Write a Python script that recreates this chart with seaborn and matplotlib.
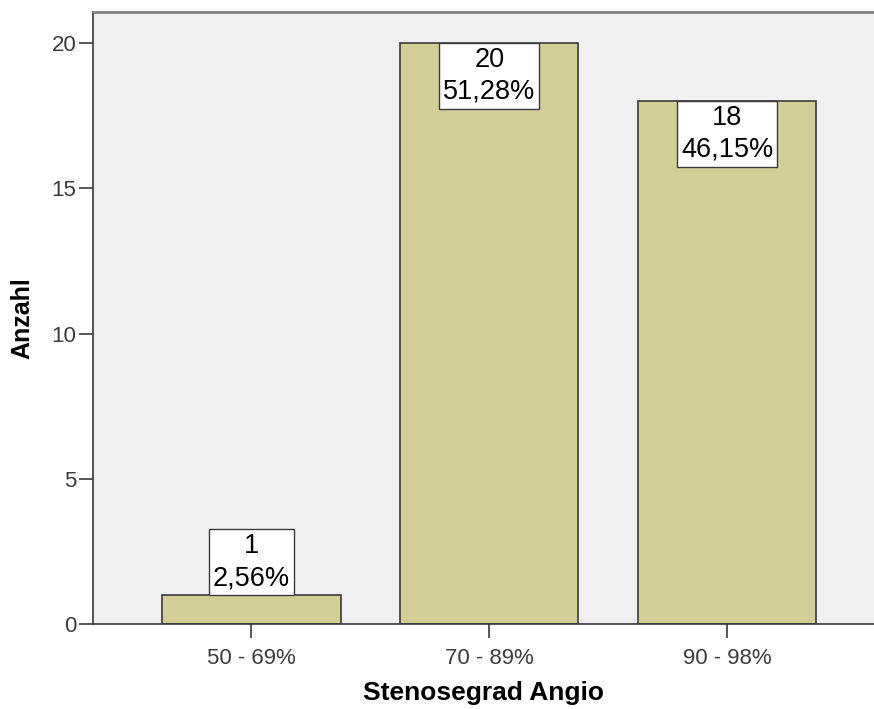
import matplotlib
matplotlib.use("Agg")
import matplotlib.pyplot as plt
import seaborn as sns
import pandas as pd

# Stenosis grade categories and patient counts
categories = ["50 - 69%", "70 - 89%", "90 - 98%"]
counts = [1, 20, 18]
percent_labels = ["2,56%", "51,28%", "46,15%"]
y_ticks = [0, 5, 10, 15, 20]

df = pd.DataFrame({"Stenosegrad": categories, "Anzahl": counts})

sns.set_style("white")
plt.rcParams["font.family"] = ["Liberation Sans", "DejaVu Sans"]

fig = plt.figure(figsize=(8.74, 7.09), dpi=100)
ax = fig.add_axes([0.1064, 0.1199, 0.8936, 0.8632])
ax.set_facecolor("#f0f0f0")

sns.barplot(data=df, x="Stenosegrad", y="Anzahl", color="#d3ce97",
            saturation=1, width=0.75, edgecolor="#3a3a3a", linewidth=1.2, ax=ax)

ax.set_xlim(-0.666, 2.618)
ax.set_ylim(0, 21.07)
ax.set_yticks(y_ticks)
ax.set_yticklabels([str(t) for t in y_ticks])

# Count / percentage labels on each bar; the box edge sits on the bar top
box_pad = 0.13
for i, (n, p) in enumerate(zip(counts, percent_labels)):
    inside = n > 5
    ax.text(i, n - box_pad if inside else n + box_pad, f"{n}\n{p}",
            ha="center", va="top" if inside else "bottom",
            fontsize=19.5, color="black", linespacing=1.3,
            bbox=dict(boxstyle="square,pad=0.14", fc="white", ec="#3a3a3a", lw=1.0),
            zorder=5)

ax.set_xlabel("Stenosegrad Angio", fontsize=19, fontweight="bold", labelpad=9, color="black")
ax.set_ylabel("Anzahl", fontsize=18, fontweight="bold", labelpad=12, color="black")

ax.tick_params(axis="both", which="major", direction="out", length=10, width=1.2,
               color="#3a3a3a", labelsize=16, labelcolor="#3c3c3c",
               left=True, bottom=True)
ax.tick_params(axis="x", pad=7)
ax.tick_params(axis="y", pad=2)

for side in ["left", "bottom"]:
    ax.spines[side].set_color("#3a3a3a")
    ax.spines[side].set_linewidth(1.2)
ax.spines["top"].set_color("#808080")
ax.spines["top"].set_linewidth(2)
ax.spines["right"].set_visible(False)

fig.savefig("out.png", dpi=100)
